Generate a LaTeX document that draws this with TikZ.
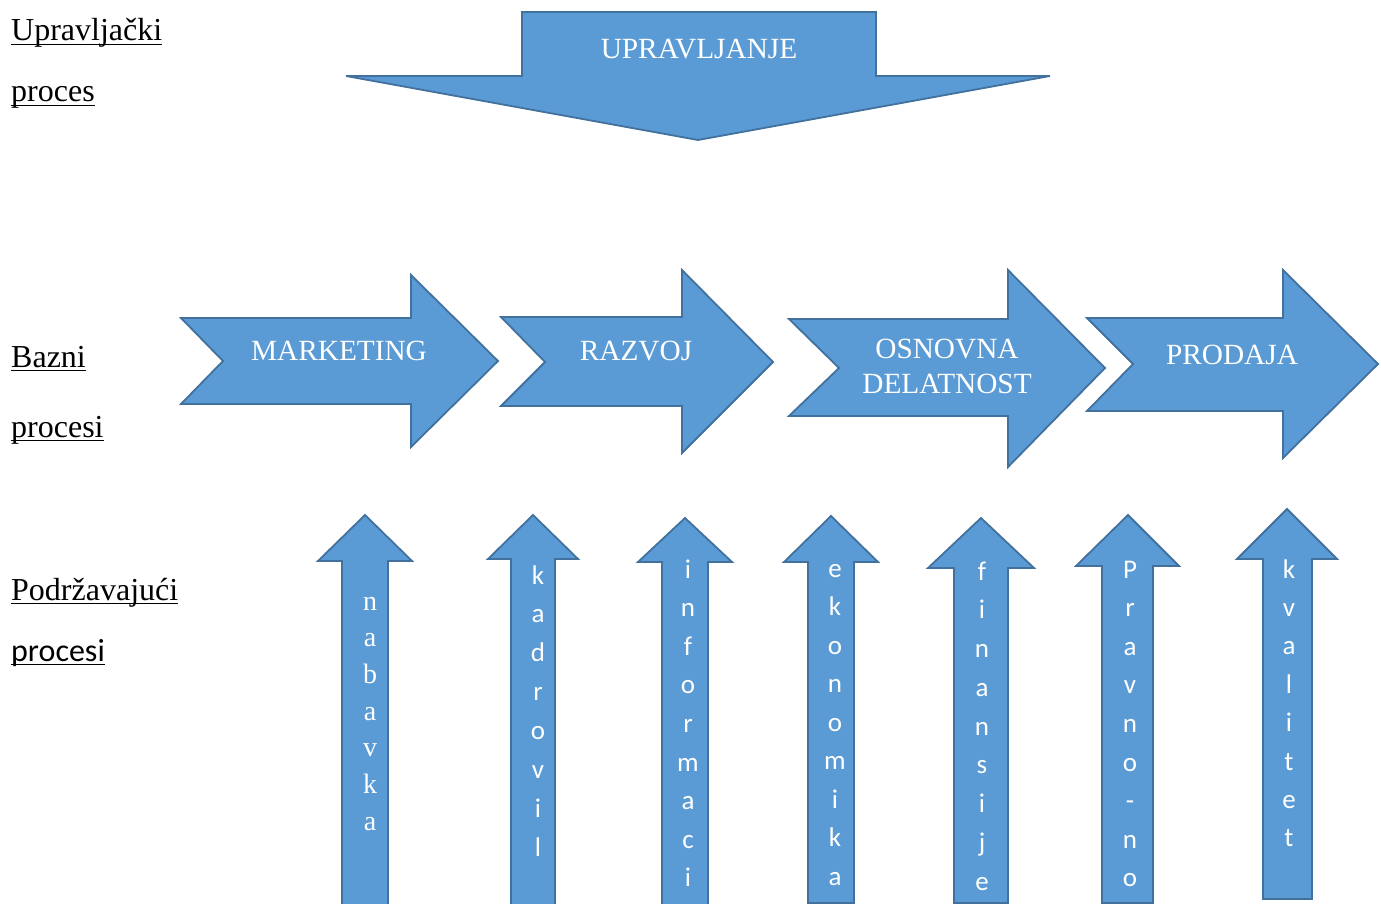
\documentclass[tikz,border=0pt]{standalone}
\usepackage{fontspec}
\setmainfont{Liberation Serif}
\newfontfamily\carlito{Carlito}
\definecolor{boxblue}{HTML}{5B9BD5}
\definecolor{edgeblue}{HTML}{41719C}

% stack the letters of a word one under another
% #1 name, #2 style, #3 x, #4 first baseline, #5 line pitch, #6 letters
\newcommand\vertword[6]{%
  \foreach \lett [count=\k] in {#6} {
    \node[#2] (#1-\k) at (#3, {#4+(\k-1)*#5}) {\lett};
  }}

\begin{document}
\begin{tikzpicture}[x=1pt,y=-1pt,
  shapearrow/.style={fill=boxblue,draw=edgeblue,line width=1.8pt,line join=miter},
  arrowtext/.style={text=white,font=\fontsize{29.3}{34}\selectfont,inner sep=0pt,anchor=base},
  sidelabel/.style={font=\fontsize{32}{36}\selectfont,inner sep=0pt,anchor=base west},
  ulline/.style={line width=1.8pt},
  vsans/.style={text=white,font=\carlito\fontsize{27}{30}\selectfont,inner sep=0pt,anchor=base},
  vserif/.style={text=white,font=\fontsize{28}{32}\selectfont,inner sep=0pt,anchor=base}]
\useasboundingbox (0,0) rectangle (1381,904);
\begin{scope}
\clip (0,0) rectangle (1381,904);

% side labels
\node[sidelabel] (l1) at (11,41) {Upravljački};
\node[sidelabel] (l2) at (11,102) {proces};
\node[sidelabel] (l3) at (11,367) {Bazni};
\node[sidelabel] (l4) at (11,437) {procesi};
\node[sidelabel] (l5) at (11,600) {Podržavajući};
\node[sidelabel,font=\carlito\fontsize{32}{36}\selectfont] (l6) at (11,661) {procesi};
\foreach \n in {l1,l2,l3,l4,l5,l6}
  \draw[ulline] ([yshift=-3.5pt]\n.base west) -- ([yshift=-3.5pt]\n.base east);

% management arrow pointing down
\draw[shapearrow] (522,12) -- (876,12) -- (876,76) -- (1050,76) -- (698,140)
  -- (346,76) -- (522,76) -- cycle;
\node[arrowtext] (upr) at (699,59) {UPRAVLJANJE};

% chain of base processes
\draw[shapearrow] (181,318) -- (411,318) -- (411,275) -- (498,361) -- (411,447)
  -- (411,404) -- (181,404) -- (223,361) -- cycle;
\draw[shapearrow] (501,317) -- (682,317) -- (682,270) -- (773,362) -- (682,453)
  -- (682,406) -- (501,406) -- (545,362) -- cycle;
\draw[shapearrow] (789,319) -- (1008,319) -- (1008,270) -- (1105,368) -- (1008,467)
  -- (1008,416) -- (789,416) -- (839,368) -- cycle;
\draw[shapearrow] (1087,318) -- (1283,318) -- (1283,270) -- (1378,364) -- (1283,458)
  -- (1283,411) -- (1087,411) -- (1133,364) -- cycle;
\node[arrowtext] (mkt) at (339,360) {MARKETING};
\node[arrowtext] (raz) at (636,360) {RAZVOJ};
\node[arrowtext] (osn1) at (947,358) {OSNOVNA};
\node[arrowtext] (osn2) at (947,393) {DELATNOST};
\node[arrowtext] (pro) at (1232,364) {PRODAJA};

% supporting processes, arrows pointing up
\draw[shapearrow] (342,908) -- (342,561) -- (318,561) -- (365,515) -- (412,561)
  -- (388,561) -- (388,908) -- cycle;
\draw[shapearrow] (511,908) -- (511,559) -- (488,559) -- (533,515) -- (578,559)
  -- (555,559) -- (555,908) -- cycle;
\draw[shapearrow] (662,908) -- (662,562) -- (638,562) -- (685,518) -- (732,562)
  -- (708,562) -- (708,908) -- cycle;
\draw[shapearrow] (808,903) -- (808,562) -- (784,562) -- (831,516) -- (878,562)
  -- (854,562) -- (854,903) -- cycle;
\draw[shapearrow] (954,903) -- (954,568) -- (928,568) -- (981,518) -- (1034,568)
  -- (1008,568) -- (1008,903) -- cycle;
\draw[shapearrow] (1102,903) -- (1102,566) -- (1076,566) -- (1128,515) -- (1179,566)
  -- (1153,566) -- (1153,903) -- cycle;
\draw[shapearrow] (1263,899) -- (1263,559) -- (1237,559) -- (1287,509) -- (1337,559)
  -- (1312,559) -- (1312,899) -- cycle;

\vertword{nab}{vserif}{370}{610}{36.7}{n,a,b,a,v,k,a}
\vertword{kad}{vsans}{538}{584}{38.9}{k,a,d,r,o,v,i,l}
\vertword{inf}{vsans}{688}{578}{38.6}{i,n,f,o,r,m,a,c,i}
\vertword{eko}{vsans}{835}{577}{38.5}{e,k,o,n,o,m,i,k,a}
\vertword{fin}{vsans}{982}{580}{38.75}{f,i,n,a,n,s,i,j,e}
\vertword{prv}{vsans}{1130}{578}{38.6}{P,r,a,v,n,o,-,n,o}
\vertword{kva}{vsans}{1289}{578}{38.4}{k,v,a,l,i,t,e,t}
\end{scope}
\end{tikzpicture}
\end{document}
